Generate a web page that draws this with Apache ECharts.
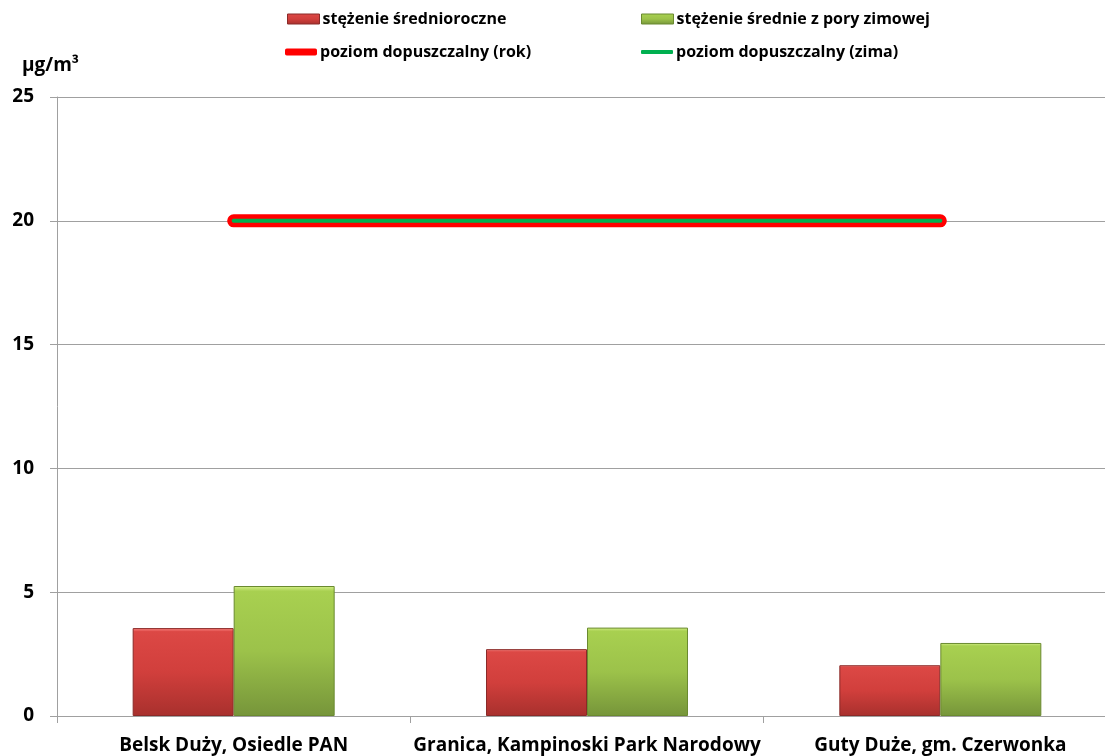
<!DOCTYPE html>
<html><head><meta charset="utf-8">
<script src="https://cdn.jsdelivr.net/npm/echarts@6/dist/echarts.min.js"></script>
<style>html,body{margin:0;padding:0;background:#fff;overflow:hidden}#c{width:1117px;height:756px}</style>
</head><body><div id="c"></div>
<script>
const categories = ['Belsk Duży, Osiedle PAN', 'Granica, Kampinoski Park Narodowy', 'Guty Duże, gm. Czerwonka'];
const annualMean = [3.55, 2.7, 2.05];
const winterMean = [5.25, 3.57, 2.95];
const limitYear = [20, 20, 20];
const limitWinter = [20, 20, 20];
const seriesNames = ['stężenie średnioroczne', 'stężenie średnie z pory zimowej', 'poziom dopuszczalny (rok)', 'poziom dopuszczalny (zima)'];

const FONT = 'Open Sans';
const redGrad = new echarts.graphic.LinearGradient(0, 0, 0, 1, [
  {offset: 0, color: '#ff8a88'}, {offset: 0.04, color: '#dc4845'}, {offset: 0.5, color: '#d13f3c'}, {offset: 1, color: '#a8302d'}]);
const greenGrad = new echarts.graphic.LinearGradient(0, 0, 0, 1, [
  {offset: 0, color: '#d6f08a'}, {offset: 0.04, color: '#a8d050'}, {offset: 0.5, color: '#9cc24a'}, {offset: 1, color: '#76953a'}]);

const chart = echarts.init(document.getElementById('c'));
function lg(name, left, top, icon, h, style) {
  return {data: [{name: name, icon: icon, itemStyle: style}], left: left, top: top, itemWidth: 32, itemHeight: h,
    itemGap: 0, padding: 0, textStyle: {fontFamily: FONT, fontWeight: 'bold', fontSize: 16, color: '#000', padding: [0, 0, 0, -2]}};
}
chart.setOption({
  animation: false,
  textStyle: {fontFamily: FONT},
  legend: [
    lg(seriesNames[0], 287, 11, 'rect', 10, {color: redGrad, borderColor: '#8a2a28', borderWidth: 1}),
    lg(seriesNames[1], 641, 11, 'rect', 10, {color: greenGrad, borderColor: '#6a8a30', borderWidth: 1}),
    lg(seriesNames[2], 285, 44, 'roundRect', 7, {color: '#ff0000', borderWidth: 0}),
    lg(seriesNames[3], 641, 44, 'roundRect', 4, {color: '#00b050', borderWidth: 0})
  ],
  graphic: [{type: 'text', left: 22, top: 56, style: {text: 'µg/m³', font: 'bold 19px ' + FONT, fill: '#000'}}],
  grid: {left: 57, right: 0, top: 97, bottom: 40, containLabel: false},
  xAxis: {
    type: 'category', data: categories,
    axisLine: {lineStyle: {color: '#a0a0a0', width: 1}},
    axisTick: {show: true, length: 7, lineStyle: {color: '#a0a0a0'}},
    axisLabel: {interval: 0, color: '#000', fontWeight: 'bold', fontSize: 19, fontFamily: FONT, margin: 20}
  },
  yAxis: {
    type: 'value', min: 0, max: 25, interval: 5,
    axisLine: {show: true, lineStyle: {color: '#a0a0a0'}},
    axisTick: {show: true, length: 7, lineStyle: {color: '#a0a0a0'}},
    splitLine: {lineStyle: {color: '#a0a0a0'}},
    axisLabel: {color: '#000', fontWeight: 'bold', fontSize: 19, fontFamily: FONT, margin: 23}
  },
  series: [
    {name: seriesNames[0], type: 'bar', data: annualMean, barWidth: 101, barGap: '0%',
     itemStyle: {color: redGrad, borderColor: '#8a2a28', borderWidth: 1}},
    {name: seriesNames[1], type: 'bar', data: winterMean, barWidth: 101, barGap: '0%',
     itemStyle: {color: greenGrad, borderColor: '#6a8a30', borderWidth: 1}},
    {name: seriesNames[2], type: 'line', data: limitYear, showSymbol: false, symbol: 'none',
     itemStyle: {color: '#ff0000'}, lineStyle: {color: '#ff0000', width: 13, cap: 'round'}, z: 5},
    {name: seriesNames[3], type: 'line', data: limitWinter, showSymbol: false, symbol: 'none',
     itemStyle: {color: '#00b050'}, lineStyle: {color: '#00b050', width: 4, cap: 'round'}, z: 6}
  ]
});
</script></body></html>
